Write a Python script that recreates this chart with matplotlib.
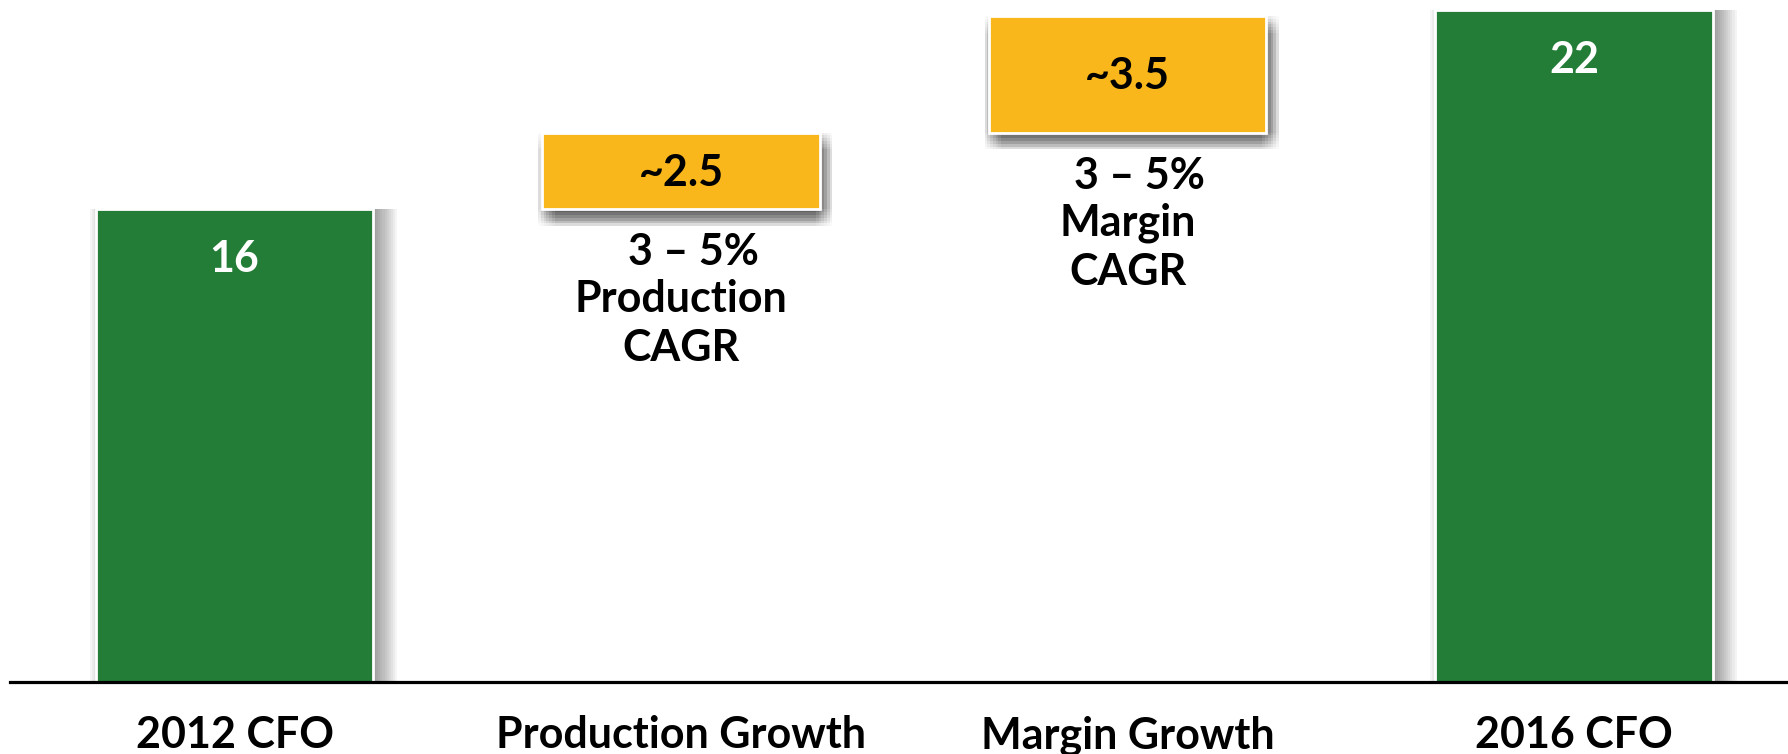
import matplotlib
matplotlib.use("Agg")
import matplotlib.pyplot as plt
from matplotlib import patheffects as pe

# ---- data ----
categories = ["2012 CFO", "Production Growth", "Margin Growth", "2016 CFO"]
bar_heights = [16.0, 2.6, 3.95, 22.75]
is_total = [True, False, False, True]
value_labels = ["16", "~2.5", "~3.5", "22"]
note_lines = [None, ["3 \u2013 5%", "Production", "CAGR"], ["3 \u2013 5%", "Margin", "CAGR"], None]

GREEN = "#237D37"
YELLOW = "#FAB71B"

plt.rcParams["font.family"] = ["Lato", "DejaVu Sans"]
plt.rcParams["font.weight"] = "bold"

W, H = 1788, 754
fig = plt.figure(figsize=(W / 100, H / 100), dpi=100)
ax = fig.add_axes([10 / W, 1 - 682 / H, 1 - 10 / W, 682 / H])

# waterfall bottoms
bottoms = []
run = 0.0
for h, tot in zip(bar_heights, is_total):
    if tot:
        bottoms.append(0.0)
        run = h
    else:
        bottoms.append(run)
        run += h

x = list(range(len(categories)))
colors = [GREEN if t else YELLOW for t in is_total]

# soft drop shadows approximated by many faint offset copies
bar_shadow = [pe.SimplePatchShadow(offset=(d * 0.5, 0), shadow_rgbFace="black", alpha=0.04)
              for d in range(-8, 36, 3)] + [pe.Normal()]
box_shadow = [pe.SimplePatchShadow(offset=(dx, dy), shadow_rgbFace="black", alpha=0.018)
              for dx in range(-3, 10, 2) for dy in range(0, -13, -2)] + [pe.Normal()]

bars = ax.bar(x, bar_heights, bottom=bottoms, width=0.622, color=colors,
              edgecolor="white", linewidth=2.0, zorder=2)
for b, t in zip(bars, is_total):
    b.set_path_effects(bar_shadow if t else box_shadow)

FS = 31
for i, (b, h, t, lab) in enumerate(zip(bottoms, bar_heights, is_total, value_labels)):
    if t:
        ax.annotate(lab, xy=(i, b + h), xytext=(0, -50), textcoords="offset pixels",
                    ha="center", va="center", color="white", fontsize=FS, fontweight="bold", zorder=5)
    else:
        ax.annotate(lab, xy=(i, b + h / 2), xytext=(0, -2), textcoords="offset pixels",
                    ha="center", va="center", color="black", fontsize=FS, fontweight="bold", zorder=5)

note_offsets = [(12, -56), (0, -103), (0, -152)]
for i, lines in enumerate(note_lines):
    if not lines:
        continue
    for line, (dx, dy) in zip(lines, note_offsets):
        ax.annotate(line, xy=(i, bottoms[i]), xytext=(dx, dy), textcoords="offset pixels",
                    ha="center", va="baseline", color="black", fontsize=FS, fontweight="bold", zorder=5)

ax.set_xlim(-0.503, 3.479)
ax.set_ylim(0, 23.09)
ax.set_xticks(x)
ax.set_xticklabels(categories, fontsize=FS, fontweight="bold")
ax.tick_params(axis="x", length=0, pad=24)
ax.set_yticks([])
for s in ["left", "right", "top"]:
    ax.spines[s].set_visible(False)
ax.spines["bottom"].set_linewidth(2.3)
ax.spines["bottom"].set_color("black")
ax.spines["bottom"].set_zorder(6)
ax.patch.set_alpha(0)

fig.savefig("out.png", dpi=100)
